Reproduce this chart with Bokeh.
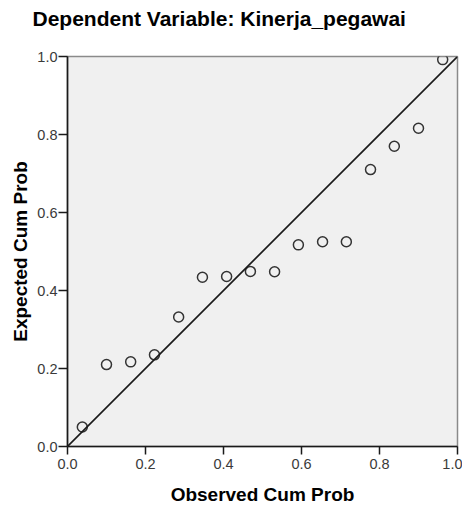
from bokeh.plotting import figure
from bokeh.models import Range1d, FixedTicker, PrintfTickFormatter, Slope, Title
from bokeh.embed import file_html
from bokeh.resources import INLINE

# Data
title_text = "Dependent Variable: Kinerja_pegawai"
x_label = "Observed Cum Prob"
y_label = "Expected Cum Prob"
tick_values = [0.0, 0.2, 0.4, 0.6, 0.8, 1.0]
observed = [0.038, 0.100, 0.162, 0.223, 0.285, 0.346, 0.408, 0.469,
            0.531, 0.592, 0.654, 0.715, 0.777, 0.838, 0.900, 0.962]
expected = [0.050, 0.210, 0.217, 0.235, 0.332, 0.434, 0.436, 0.449,
            0.448, 0.517, 0.525, 0.525, 0.710, 0.770, 0.816, 0.992]

FONT = "Liberation Sans"

p = figure(width=462, height=506, frame_width=390, frame_height=390,
           x_range=Range1d(0, 1), y_range=Range1d(0, 1),
           output_backend="svg", toolbar_location=None,
           min_border_left=67, min_border_right=5,
           min_border_top=56, min_border_bottom=60)

p.title = Title(text=title_text, align="left", offset=-35,
                text_font=FONT, text_font_size="21px", text_font_style="bold",
                text_color="#000000", standoff=0)
# blank spacer between title and plot frame
p.add_layout(Title(text=" ", text_font_size="22px", standoff=0), "above")

p.border_fill_color = "#ffffff"
p.xgrid.visible = False
p.ygrid.visible = False
p.outline_line_color = "#8a8a8a"
p.outline_line_width = 1.5
p.background_fill_color = "#f0f0f0"

for ax in (p.xaxis[0], p.yaxis[0]):
    ax.ticker = FixedTicker(ticks=tick_values, minor_ticks=[])
    ax.formatter = PrintfTickFormatter(format="%.1f")
    ax.axis_line_color = "#1a1a1a"
    ax.axis_line_width = 1.6
    ax.major_tick_line_color = "#1a1a1a"
    ax.major_tick_line_width = 1.5
    ax.major_tick_in = 0
    ax.minor_tick_line_color = None
    ax.major_label_text_font = FONT
    ax.major_label_text_font_size = "14.5px"
    ax.major_label_text_color = "#3a3a3a"
    ax.axis_label_text_font = FONT
    ax.axis_label_text_font_size = "19px"
    ax.axis_label_text_font_style = "bold"
    ax.axis_label_text_color = "#000000"

p.xaxis.axis_label = x_label
p.yaxis.axis_label = y_label
p.xaxis.major_tick_out = 8
p.xaxis.major_label_standoff = 4
p.xaxis.axis_label_standoff = 12
p.yaxis.major_tick_out = 9
p.yaxis.major_label_standoff = 1
p.yaxis.axis_label_standoff = 3

p.add_layout(Slope(gradient=1, y_intercept=0, line_color="#1a1a1a", line_width=1.6))

p.scatter(observed, expected, marker="circle", size=10,
          fill_color=None, line_color="#333333", line_width=1.5)

open("out.html", "w").write(file_html(p, INLINE))
